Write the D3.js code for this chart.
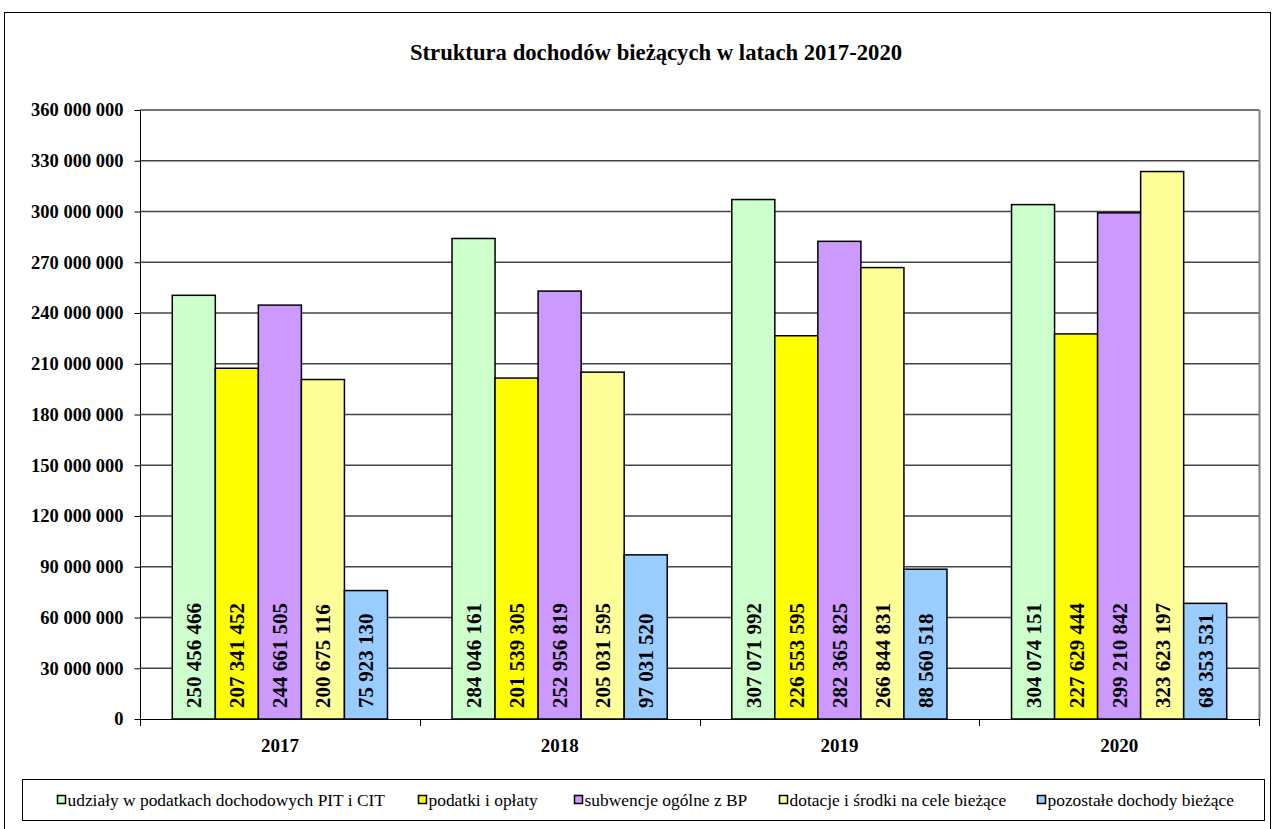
<!DOCTYPE html>
<html><head><meta charset="utf-8">
<script src="https://cdnjs.cloudflare.com/ajax/libs/d3/7.8.5/d3.min.js"></script>
<style>body{margin:0;background:#fff}svg{display:block}
svg text{font-family:"Liberation Serif","Times New Roman","DejaVu Serif",serif}</style>
</head><body>
<svg id="c" width="1274" height="829"></svg>
<script>
const title = "Struktura dochodów bieżących w latach 2017-2020";
const years = ["2017", "2018", "2019", "2020"];
const seriesNames = ["udziały w podatkach dochodowych PIT i CIT", "podatki i opłaty", "subwencje ogólne z BP", "dotacje i środki na cele bieżące", "pozostałe dochody bieżące"];
const seriesColors = ["#CCFFCC", "#FFFF00", "#CC99FF", "#FFFF99", "#99CCFF"];
const udzialy = [250456466, 284046161, 307071992, 304074151];
const podatki = [207341452, 201539305, 226553595, 227629444];
const subwencje = [244661505, 252956819, 282365825, 299210842];
const dotacje = [200675116, 205031595, 266844831, 323623197];
const pozostale = [75923130, 97031520, 88560518, 68353531];
const yTicks = [0, 30000000, 60000000, 90000000, 120000000, 150000000, 180000000, 210000000, 240000000, 270000000, 300000000, 330000000, 360000000];

const seriesValues = [udzialy, podatki, subwencje, dotacje, pozostale];
const svg = d3.select("#c");
const fmt = v => d3.format(",")(v).replace(/,/g, " ");

// outer frame
svg.append("rect").attr("x", 4.5).attr("y", 12.5).attr("width", 1266).attr("height", 830)
  .attr("fill", "none").attr("stroke", "#000").attr("stroke-width", 1);

svg.append("text").attr("x", 656).attr("y", 60).attr("text-anchor", "middle")
  .attr("font-weight", "bold").attr("font-size", 22.7).text(title);

const L = 140, R = 1259, T = 110, B = 719;
const y = d3.scaleLinear().domain([0, 360000000]).range([B, T]);
const x0 = d3.scaleBand().domain(years).range([L, R]).padding(0);
const bw = x0.bandwidth();
const gap = bw * 1.5 / 6.5;
const x1 = d3.scaleBand().domain(d3.range(5)).range([gap / 2, bw - gap / 2]).padding(0);

// gridlines
svg.append("g").selectAll("line").data(yTicks.filter(d => d > 0)).join("line")
  .attr("x1", L).attr("x2", R).attr("y1", d => y(d)).attr("y2", d => y(d))
  .attr("stroke", "#444").attr("stroke-width", 1.5);

// right border of plot area
svg.append("line").attr("x1", R + 0.5).attr("x2", R + 0.5).attr("y1", T).attr("y2", B)
  .attr("stroke", "#808080").attr("stroke-width", 2);

// y axis
const yAxis = d3.axisLeft(y).tickValues(yTicks).tickSize(6).tickPadding(11).tickFormat(fmt);
const gy = svg.append("g").attr("transform", `translate(${L + 0.5},0)`).call(yAxis);
gy.attr("font-family", null);
gy.select(".domain").remove();
gy.selectAll(".tick line").attr("stroke", "#000");
gy.selectAll(".tick text").attr("font-weight", "bold").attr("font-size", 18.5).attr("fill", "#000");
svg.append("line").attr("x1", L + 0.5).attr("x2", L + 0.5).attr("y1", T).attr("y2", B).attr("stroke", "#000");

// bars
const groups = svg.append("g").selectAll("g").data(years).join("g")
  .attr("transform", d => `translate(${x0(d)},0)`);
groups.each(function(yr, gi) {
  const g = d3.select(this);
  seriesValues.forEach((vals, si) => {
    const v = vals[gi];
    g.append("rect").attr("x", x1(si)).attr("y", y(v)).attr("width", x1.bandwidth()).attr("height", B - y(v))
      .attr("fill", seriesColors[si]).attr("stroke", "#000").attr("stroke-width", 1.5);
    const cx = x1(si) + x1.bandwidth() / 2;
    g.append("text").attr("transform", `translate(${cx + 7.5},${B - 11}) rotate(-90)`)
      .attr("font-weight", "bold").attr("font-size", 21).attr("fill", "#000")
      .text(fmt(v));
  });
});

// x axis
svg.append("line").attr("x1", L).attr("x2", R).attr("y1", B + 0.5).attr("y2", B + 0.5).attr("stroke", "#000");
const xTickPos = years.map(d => x0(d)).concat([R]);
svg.append("g").selectAll("line").data(xTickPos).join("line")
  .attr("x1", d => Math.round(d) + 0.5).attr("x2", d => Math.round(d) + 0.5).attr("y1", B).attr("y2", B + 7)
  .attr("stroke", "#000");
svg.append("g").selectAll("text").data(years).join("text")
  .attr("x", d => x0(d) + bw / 2).attr("y", 752).attr("text-anchor", "middle")
  .attr("font-weight", "bold").attr("font-size", 19).text(d => d);

// legend
svg.append("rect").attr("x", 22.5).attr("y", 779.5).attr("width", 1242).attr("height", 41)
  .attr("fill", "#fff").attr("stroke", "#000");
const legX = [57, 418, 574, 779, 1037];
const lg = svg.append("g").selectAll("g").data(seriesNames).join("g")
  .attr("transform", (d, i) => `translate(${legX[i]},800)`);
lg.append("rect").attr("x", 0.5).attr("y", -4.5).attr("width", 8).attr("height", 8)
  .attr("fill", (d, i) => seriesColors[i]).attr("stroke", "#000").attr("stroke-width", 1.5);
lg.append("text").attr("x", 10.5).attr("y", 5.5).attr("font-size", 17.4).text(d => d);
</script>
</body></html>
